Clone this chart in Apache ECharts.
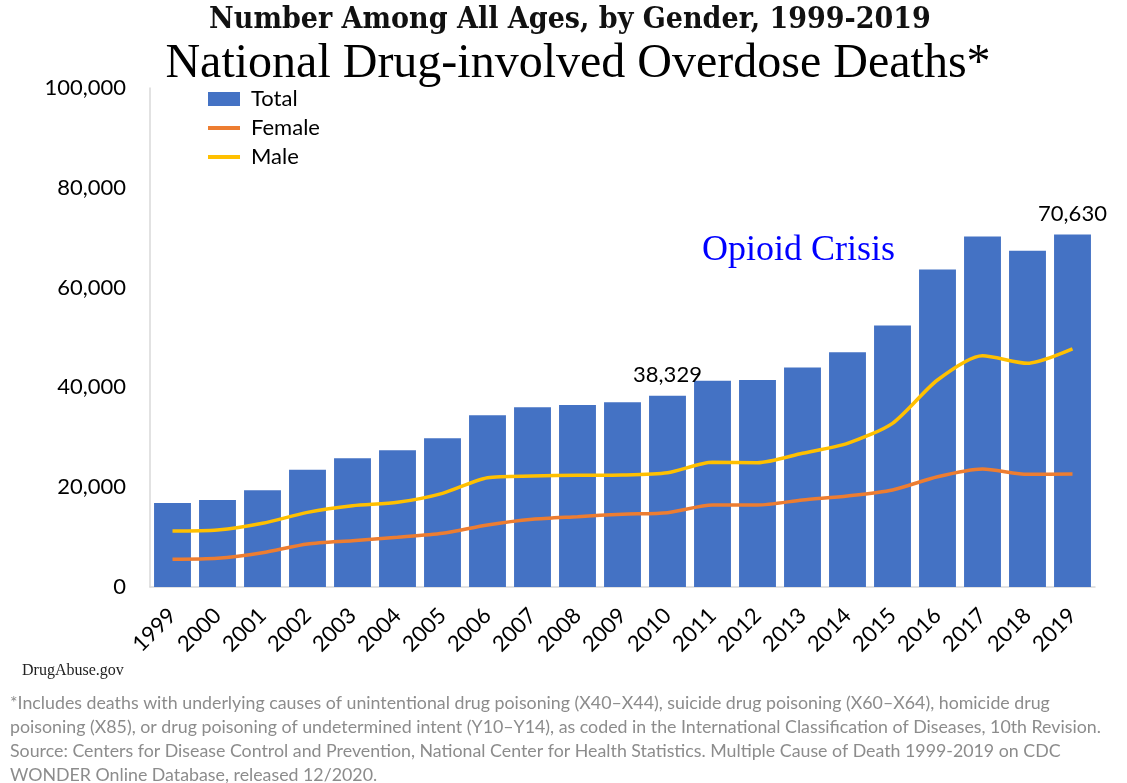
<!DOCTYPE html>
<html><head><meta charset="utf-8">
<script src="https://cdn.jsdelivr.net/npm/echarts@6/dist/echarts.min.js"></script>
<style>html,body{margin:0;padding:0;background:#fff}#c{width:1127px;height:783px}</style>
</head><body><div id="c"></div>
<script>
var years = ['1999','2000','2001','2002','2003','2004','2005','2006','2007','2008','2009','2010','2011','2012','2013','2014','2015','2016','2017','2018','2019'];
var total = [16849,17415,19394,23518,25785,27424,29813,34425,36010,36450,37004,38329,41340,41502,43982,47055,52404,63632,70237,67367,70630];
var female = [5550,5750,6870,8620,9280,9960,10760,12420,13560,14090,14600,14900,16430,16430,17430,18240,19440,22100,23650,22580,22650];
var male = [11220,11420,12760,14960,16300,16970,18770,21900,22240,22380,22440,22900,25000,24900,26800,28800,32800,41480,46350,44830,47700];
var labeledYears = ['2010','2019'];

var chart = echarts.init(document.getElementById('c'));
var fmt = function(v){return v.toLocaleString('en-US');};
var lineIcon = 'path://M0,0 L0,0 M0,5 L32,5 L32,9 L0,9 Z M0,14 L0,14';
chart.setOption({
  animation:false,
  backgroundColor:'#fff',
  title:[
    {text:'Number Among All Ages, by Gender, 1999-2019',left:565,textAlign:'center',top:0,
     textStyle:{fontFamily:'DejaVu Serif Condensed',fontWeight:'bold',fontSize:30,color:'#111'}},
    {text:'National Drug-involved Overdose Deaths*',left:573,textAlign:'center',top:35,
     textStyle:{fontFamily:'Liberation Serif',fontWeight:'normal',fontSize:48,color:'#000'}}
  ],
  legend:{left:203,top:83,orient:'vertical',itemGap:7,itemWidth:32,itemHeight:14,
    textStyle:{fontFamily:'Lato',fontSize:22,color:'#000',padding:[0,0,0,6]},
    data:[{name:'Total',icon:'rect'},{name:'Female',icon:lineIcon},{name:'Male',icon:lineIcon}]},
  grid:{left:150,right:32,top:88,bottom:196},
  xAxis:{type:'category',data:years,
    axisLine:{lineStyle:{color:'#d9d9d9',width:1.5}},axisTick:{show:false},
    axisLabel:{rotate:45,fontFamily:'Lato',fontSize:22,color:'#000',margin:25,interval:0}},
  yAxis:{type:'value',min:0,max:100000,interval:20000,
    axisLine:{show:true,lineStyle:{color:'#d9d9d9',width:1.5}},splitLine:{show:false},
    axisLabel:{fontFamily:'Lato',fontSize:22,color:'#000',margin:24,formatter:function(v){return fmt(v);}}},
  series:[
    {name:'Total',type:'bar',barCategoryGap:'18%',itemStyle:{color:'#4472C4'},
     data:total.map(function(v,i){return {value:v,label:{show:labeledYears.indexOf(years[i])>=0}};}),
     label:{position:'top',distance:10,fontFamily:'Lato',fontSize:22,color:'#000',formatter:function(p){return fmt(p.value);}}},
    {name:'Female',type:'line',data:female,smooth:0.25,symbol:'none',lineStyle:{color:'#ED7D31',width:3.5},itemStyle:{color:'#ED7D31'}},
    {name:'Male',type:'line',data:male,smooth:0.25,symbol:'none',lineStyle:{color:'#FFC000',width:3.5},itemStyle:{color:'#FFC000'}}
  ],
  graphic:[
    {type:'text',left:702,top:233,style:{text:'Opioid Crisis',font:'36px "Liberation Serif"',fill:'#0000FF'}},
    {type:'text',left:22,top:663,style:{text:'DrugAbuse.gov',font:'16px "Liberation Serif"',fill:'#222'}},
    {type:'text',left:10,top:691,style:{text:'*Includes deaths with underlying causes of unintentional drug poisoning (X40\u2013X44), suicide drug poisoning (X60\u2013X64), homicide drug\npoisoning (X85), or drug poisoning of undetermined intent (Y10\u2013Y14), as coded in the International Classification of Diseases, 10th Revision.\nSource: Centers for Disease Control and Prevention, National Center for Health Statistics. Multiple Cause of Death 1999-2019 on CDC\nWONDER Online Database, released 12/2020.',
      font:'17.8px "Lato"',fill:'#8c8c8c',lineHeight:24}}
  ]
});
</script></body></html>
